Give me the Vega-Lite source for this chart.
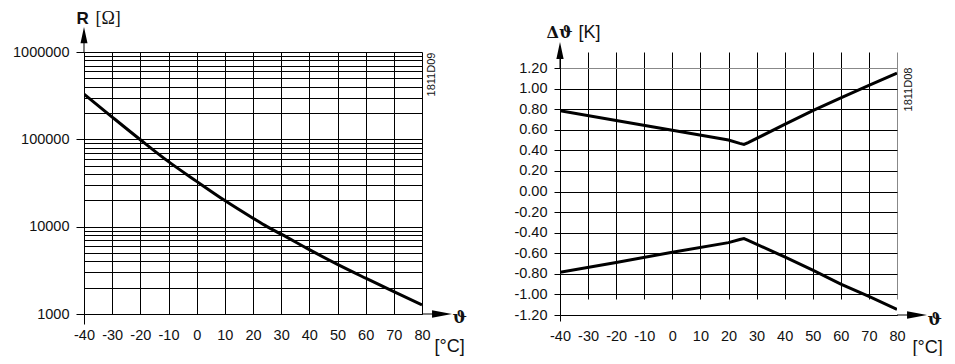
{
  "$schema": "https://vega.github.io/schema/vega-lite/v6.json",
  "background": "white",
  "padding": {"left": 12, "top": 9, "right": 0, "bottom": 0},
  "spacing": 46,
  "config": {
    "view": {"stroke": null},
    "font": "Liberation Sans",
    "axis": {
      "labelFont": "Liberation Sans",
      "labelFontSize": 14.5,
      "labelColor": "#111111",
      "gridColor": "#000000",
      "gridOpacity": 1,
      "gridWidth": 1,
      "domainColor": "#000000",
      "domainWidth": 1,
      "tickColor": "#000000",
      "tickWidth": 1,
      "titleColor": "#111111",
      "titlePadding": 0
    }
  },
  "datasets": {
    "ntc": [
      {"t": -40, "r": 330000},
      {"t": -30, "r": 180000},
      {"t": -20, "r": 99000},
      {"t": -10, "r": 55500},
      {"t": 0, "r": 33000},
      {"t": 10, "r": 19900},
      {"t": 20, "r": 12500},
      {"t": 25, "r": 10000},
      {"t": 30, "r": 8200},
      {"t": 40, "r": 5450},
      {"t": 50, "r": 3700},
      {"t": 60, "r": 2570},
      {"t": 70, "r": 1800},
      {"t": 80, "r": 1270}
    ],
    "tol": [
      {"s": "upper", "t": -40, "d": 0.785},
      {"s": "upper", "t": -20, "d": 0.69},
      {"s": "upper", "t": 0, "d": 0.595},
      {"s": "upper", "t": 20, "d": 0.5},
      {"s": "upper", "t": 24, "d": 0.468},
      {"s": "upper", "t": 25.5, "d": 0.458},
      {"s": "upper", "t": 27, "d": 0.475},
      {"s": "upper", "t": 40, "d": 0.652},
      {"s": "upper", "t": 50, "d": 0.785},
      {"s": "upper", "t": 60, "d": 0.91},
      {"s": "upper", "t": 70, "d": 1.03},
      {"s": "upper", "t": 80, "d": 1.15},
      {"s": "lower", "t": -40, "d": -0.785},
      {"s": "lower", "t": -20, "d": -0.69},
      {"s": "lower", "t": 0, "d": -0.59},
      {"s": "lower", "t": 20, "d": -0.497},
      {"s": "lower", "t": 24, "d": -0.466},
      {"s": "lower", "t": 25.5, "d": -0.458},
      {"s": "lower", "t": 27, "d": -0.475},
      {"s": "lower", "t": 40, "d": -0.636},
      {"s": "lower", "t": 50, "d": -0.765},
      {"s": "lower", "t": 60, "d": -0.9},
      {"s": "lower", "t": 70, "d": -1.02},
      {"s": "lower", "t": 80, "d": -1.145}
    ]
  },
  "hconcat": [
    {
      "width": 338,
      "height": 262,
      "resolve": {"axis": {"x": "independent", "y": "independent"}},
      "layer": [
        {
          "data": {"name": "ntc"},
          "mark": {"type": "line", "color": "#000000", "strokeWidth": 3, "interpolate": "monotone", "clip": true},
          "encoding": {
            "x": {
              "field": "t", "type": "quantitative",
              "scale": {"domain": [-40, 80], "nice": false, "zero": false},
              "axis": {
                "values": [-40, -30, -20, -10, 0, 10, 20, 30, 40, 50, 60, 70, 80],
                "labelExpr": "toString(datum.value)",
                "grid": true, "domain": true, "ticks": true, "tickSize": 10,
                "tickOpacity": {"condition": {"test": "datum.value == -40", "value": 1}, "value": 0},
                "labelPadding": 4, "labelOverlap": false, "labelFlush": false,
                "title": "[°C]", "titleFontSize": 18, "titleFontWeight": "normal",
                "titleAngle": 0, "titleAlign": "left", "titleBaseline": "alphabetic",
                "titleX": 350, "titleY": 37
              }
            },
            "y": {
              "field": "r", "type": "quantitative",
              "scale": {"type": "log", "domain": [1000, 1000000], "nice": false},
              "axis": {
                "values": [1000, 2000, 3000, 4000, 5000, 6000, 7000, 8000, 9000, 10000, 20000, 30000, 40000, 50000, 60000, 70000, 80000, 90000, 100000, 200000, 300000, 400000, 500000, 600000, 700000, 800000, 900000, 1000000],
                "grid": true, "domain": true, "ticks": true, "tickSize": 8,
                "tickOpacity": {"condition": {"test": "datum.value == 1000 || datum.value == 10000 || datum.value == 100000 || datum.value == 1000000", "value": 1}, "value": 0},
                "labelExpr": "(datum.value == 1000 || datum.value == 10000 || datum.value == 100000 || datum.value == 1000000) ? toString(datum.value) : ''",
                "labelPadding": 7, "labelOverlap": false, "labelFlush": false,
                "title": "R", "titleFontSize": 17, "titleFontWeight": "bold",
                "titleAngle": 0, "titleAlign": "left", "titleBaseline": "alphabetic",
                "titleX": -8, "titleY": -29
              }
            }
          }
        },
        {
          "data": {"values": [{}]},
          "mark": {"type": "point", "shape": "M0,-1L0.28,0.3L0.04,0.3L0.04,1L-0.04,1L-0.04,0.3L-0.28,0.3Z", "size": 625, "filled": true, "color": "#000000", "opacity": 1, "strokeWidth": 0, "yOffset": -12.5},
          "encoding": {
            "x": {
              "datum": -40, "type": "quantitative",
              "axis": {
                "orient": "bottom", "grid": false, "domain": false, "ticks": false, "labels": false,
                "title": "ϑ", "titleFont": "DejaVu Serif", "titleFontSize": 17, "titleFontWeight": "bold",
                "titleAngle": 0, "titleAlign": "left", "titleBaseline": "alphabetic",
                "titleX": 368, "titleY": 8
              }
            },
            "y": {
              "datum": 1000000, "type": "quantitative",
              "axis": {
                "orient": "right", "grid": false, "domain": false, "ticks": false, "labels": false,
                "title": "1811D09", "titleFontSize": 11, "titleFontWeight": "normal",
                "titleAngle": 270, "titleAlign": "center", "titleBaseline": "middle",
                "titleX": 9, "titleY": 22
              }
            }
          }
        },
        {
          "data": {"values": [{}]},
          "mark": {"type": "point", "shape": "M1,0L-0.33,-0.25L-0.33,-0.035L-1,-0.035L-1,0.035L-0.33,0.035L-0.33,0.25Z", "size": 900, "filled": true, "color": "#000000", "opacity": 1, "strokeWidth": 0, "xOffset": 15},
          "encoding": {
            "x": {"datum": 80, "type": "quantitative", "axis": null},
            "y": {
              "datum": 1000, "type": "quantitative",
              "axis": {
                "orient": "left", "grid": false, "domain": false, "ticks": false, "labels": false,
                "title": "[Ω]", "titleFont": "Liberation Serif", "titleFontSize": 18, "titleFontWeight": "normal",
                "titleAngle": 0, "titleAlign": "left", "titleBaseline": "alphabetic",
                "titleX": 11, "titleY": -29
              }
            }
          }
        }
      ]
    },
    {
      "width": 337,
      "height": 263,
      "resolve": {"axis": {"x": "independent", "y": "independent"}},
      "layer": [
        {
          "data": {"name": "tol"},
          "mark": {"type": "line", "color": "#000000", "strokeWidth": 3, "interpolate": "linear", "clip": true},
          "encoding": {
            "detail": {"field": "s"},
            "x": {
              "field": "t", "type": "quantitative",
              "scale": {"domain": [-40, 80], "nice": false, "zero": false},
              "axis": {
                "values": [-40, -30, -20, -10, 0, 10, 20, 30, 40, 50, 60, 70, 80],
                "labelExpr": "toString(datum.value)",
                "grid": true, "domain": true, "ticks": true, "tickSize": 6,
                "gridColor": {"condition": {"test": "datum.value == 80", "value": "#888888"}, "value": "#000000"},
                "tickOpacity": {"condition": {"test": "datum.value == -40", "value": 1}, "value": 0},
                "labelPadding": 8, "labelOverlap": false, "labelFlush": false,
                "title": "[°C]", "titleFontSize": 18, "titleFontWeight": "normal",
                "titleAngle": 0, "titleAlign": "left", "titleBaseline": "alphabetic",
                "titleX": 352, "titleY": 37
              }
            },
            "y": {
              "field": "d", "type": "quantitative",
              "scale": {"domain": [-1.2, 1.2], "range": [263, 16], "nice": false, "zero": false},
              "axis": {
                "values": [-1.2, -1.0, -0.8, -0.6, -0.4, -0.2, 0, 0.2, 0.4, 0.6, 0.8, 1.0, 1.2],
                "labelExpr": "replace(format(datum.value, '.2f'), '\u2212', '-')",
                "grid": true, "domain": true, "ticks": true, "tickSize": 6,
                "gridColor": {"condition": {"test": "datum.value == 1.2", "value": "#888888"}, "value": "#000000"},
                "labelPadding": 7, "labelOverlap": false, "labelFlush": false,
                "title": "Δϑ", "titleFont": "DejaVu Serif", "titleFontSize": 16, "titleFontWeight": "bold",
                "titleAngle": 0, "titleAlign": "left", "titleBaseline": "alphabetic",
                "titleX": -14, "titleY": -15
              }
            }
          }
        },
        {
          "data": {"values": [{}]},
          "mark": {"type": "point", "shape": "M0,-1L0.28,0.3L0.04,0.3L0.04,1L-0.04,1L-0.04,0.3L-0.28,0.3Z", "size": 676, "filled": true, "color": "#000000", "opacity": 1, "strokeWidth": 0, "yOffset": -13},
          "encoding": {
            "x": {
              "datum": -40, "type": "quantitative",
              "axis": {
                "orient": "bottom", "grid": false, "domain": false, "ticks": false, "labels": false,
                "title": "ϑ", "titleFont": "DejaVu Serif", "titleFontSize": 17, "titleFontWeight": "bold",
                "titleAngle": 0, "titleAlign": "left", "titleBaseline": "alphabetic",
                "titleX": 367, "titleY": 9
              }
            },
            "y": {
              "datum": 1.2, "type": "quantitative",
              "axis": {
                "orient": "right", "grid": false, "domain": false, "ticks": false, "labels": false,
                "title": "1811D08", "titleFontSize": 11, "titleFontWeight": "normal",
                "titleAngle": 270, "titleAlign": "center", "titleBaseline": "middle",
                "titleX": 11, "titleY": 37
              }
            }
          }
        },
        {
          "data": {"values": [{}]},
          "mark": {"type": "point", "shape": "M1,0L-0.33,-0.25L-0.33,-0.035L-1,-0.035L-1,0.035L-0.33,0.035L-0.33,0.25Z", "size": 900, "filled": true, "color": "#000000", "opacity": 1, "strokeWidth": 0, "xOffset": 15},
          "encoding": {
            "x": {"datum": 80, "type": "quantitative", "axis": null},
            "y": {
              "datum": -1.2, "type": "quantitative",
              "axis": {
                "orient": "left", "grid": false, "domain": false, "ticks": false, "labels": false,
                "title": "[K]", "titleFontSize": 18, "titleFontWeight": "normal",
                "titleAngle": 0, "titleAlign": "left", "titleBaseline": "alphabetic",
                "titleX": 18, "titleY": -15
              }
            }
          }
        }
      ]
    }
  ]
}
